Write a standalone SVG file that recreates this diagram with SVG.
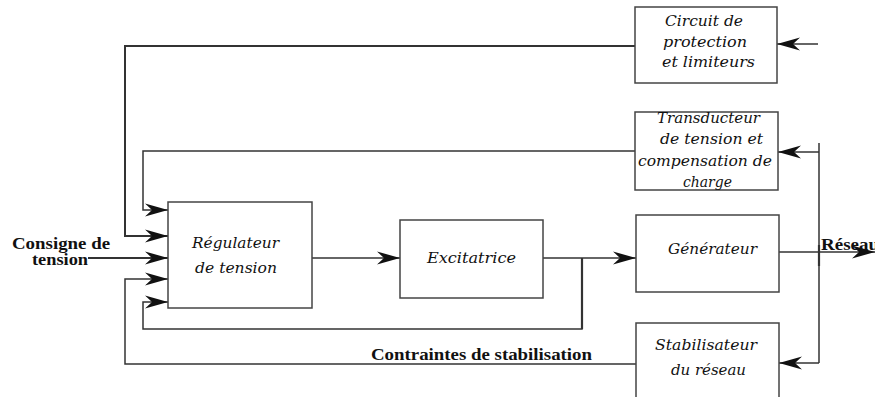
<svg xmlns="http://www.w3.org/2000/svg" width="875" height="397" viewBox="0 0 875 397">
<defs>
<marker id="ah" markerUnits="userSpaceOnUse" markerWidth="26" markerHeight="16" viewBox="-24 -8 26 16" refX="0" refY="0" orient="auto">
<path d="M0,0 L-23,-6.5 L-16,0 L-23,6.5 Z" fill="#111"/>
</marker>
</defs>
<style>
.box{fill:#fff;stroke:#444;stroke-width:1.5}
.ln{fill:none;stroke:#333;stroke-width:1.5}
.lb{font-family:"DejaVu Serif","Liberation Serif","Times New Roman",serif;font-style:italic;font-size:14px;fill:#111}
.bd{font-family:"Liberation Serif","DejaVu Serif","Times New Roman",serif;font-weight:bold;font-size:16px;fill:#111}
</style>
<rect width="875" height="397" fill="#fff"/>
<g id="connectors">
<path class="ln" d="M635,46 H125 V236 H168" marker-end="url(#ah)" style="stroke-width:2"/>
<path class="ln" d="M818,44 H777" marker-end="url(#ah)"/>
<path class="ln" d="M635,151 H143 V210 H168" marker-end="url(#ah)"/>
<path class="ln" d="M819,143 V363"/>
<path class="ln" d="M819,152 H778" marker-end="url(#ah)"/>
<path class="ln" d="M819,363 H779" marker-end="url(#ah)"/>
<path class="ln" d="M779,252 H875" marker-end="url(#ah)"/>
<path class="ln" d="M636,364 H125 V279 H168" marker-end="url(#ah)"/>
<path class="ln" d="M88,258 H168" marker-end="url(#ah)" style="stroke-width:2"/>
<path class="ln" d="M312,258 H400" marker-end="url(#ah)"/>
<path class="ln" d="M543,258 H636" marker-end="url(#ah)"/>
<path class="ln" d="M582,258 V329 H143 V302 H168" marker-end="url(#ah)"/>
<path class="ln" d="M819,245 V266 M582,258 V329" style="stroke-width:2.2"/>
</g>
<g id="circuit">
<rect class="box" x="635" y="7" width="142" height="76"/>
<text class="lb" x="665" y="26" textLength="78" lengthAdjust="spacingAndGlyphs">Circuit de</text>
<text class="lb" x="663" y="47" textLength="84" lengthAdjust="spacingAndGlyphs">protection</text>
<text class="lb" x="662" y="67" textLength="93" lengthAdjust="spacingAndGlyphs">et limiteurs</text>
</g>
<g id="transducteur">
<rect class="box" x="635" y="112" width="143" height="78"/>
<text class="lb" x="657" y="123" textLength="103" lengthAdjust="spacingAndGlyphs">Transducteur</text>
<text class="lb" x="660" y="144" textLength="103" lengthAdjust="spacingAndGlyphs">de tension et</text>
<text class="lb" x="638" y="166" textLength="134" lengthAdjust="spacingAndGlyphs">compensation de</text>
<text class="lb" x="683" y="187" textLength="49" lengthAdjust="spacingAndGlyphs">charge</text>
</g>
<g id="regulateur">
<rect class="box" x="168" y="202" width="144" height="106"/>
<text class="lb" x="192" y="248" textLength="87" lengthAdjust="spacingAndGlyphs">Régulateur</text>
<text class="lb" x="195" y="273" textLength="82" lengthAdjust="spacingAndGlyphs">de tension</text>
</g>
<g id="excitatrice">
<rect class="box" x="400" y="220" width="143" height="78"/>
<text class="lb" x="427" y="263" textLength="89" lengthAdjust="spacingAndGlyphs">Excitatrice</text>
</g>
<g id="generateur">
<rect class="box" x="636" y="215" width="143" height="77"/>
<text class="lb" x="668" y="254" textLength="89" lengthAdjust="spacingAndGlyphs">Générateur</text>
</g>
<g id="stabilisateur">
<rect class="box" x="636" y="323" width="143" height="80"/>
<text class="lb" x="655" y="350" textLength="102" lengthAdjust="spacingAndGlyphs">Stabilisateur</text>
<text class="lb" x="671" y="375" textLength="75" lengthAdjust="spacingAndGlyphs">du réseau</text>
</g>
<g id="labels">
<text class="bd" x="12" y="249" textLength="98" lengthAdjust="spacingAndGlyphs">Consigne de</text>
<text class="bd" x="32" y="265" textLength="56" lengthAdjust="spacingAndGlyphs">tension</text>
<text class="bd" x="371" y="360" textLength="221" lengthAdjust="spacingAndGlyphs">Contraintes de stabilisation</text>
<text class="bd" x="821" y="250" textLength="58" lengthAdjust="spacingAndGlyphs">Réseau</text>
</g>
</svg>
